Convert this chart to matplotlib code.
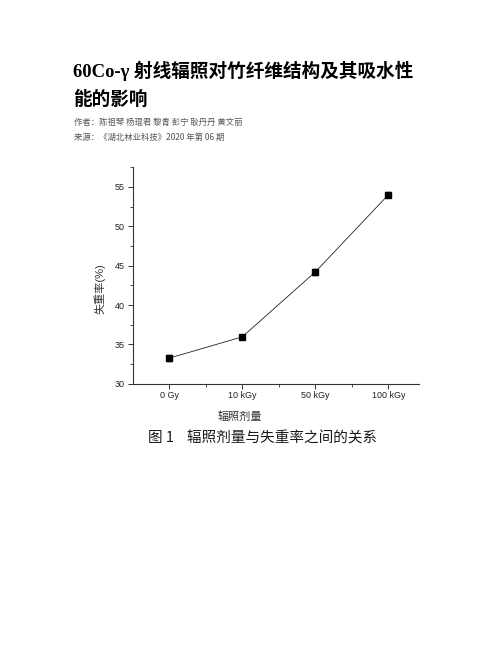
import numpy as np
import matplotlib
matplotlib.use("Agg")
import matplotlib.pyplot as plt
from matplotlib.ticker import MultipleLocator, FixedLocator

plt.rcParams['font.family'] = ['Liberation Sans', 'Noto Sans CJK SC', 'DejaVu Sans']

# data
doses = ['0 Gy', '10 kGy', '50 kGy', '100 kGy']
loss_rate = [33.25, 35.95, 44.2, 54.0]
loss_err = [0.4, 0.25, 0.35, 0.3]

title_lines = ['60Co-γ 射线辐照对竹纤维结构及其吸水性', '能的影响']
author_line = '作者：陈祖琴 杨琨君 黎青 彭宁 耿丹丹 黄文丽'
source_line = '来源：《湖北林业科技》2020 年第 06 期'
caption = '图 1    辐照剂量与失重率之间的关系'

fig = plt.figure(figsize=(5.02, 6.49), dpi=100)

# page header
head_font = ['Liberation Serif', 'Noto Sans CJK SC']
fig.text(73 / 502, 1 - 71 / 649, title_lines[0], fontsize=13.4, fontweight='bold',
         family=head_font, va='center', ha='left')
fig.text(73 / 502, 1 - 100 / 649, title_lines[1], fontsize=13.4, fontweight='bold',
         family=head_font, va='center', ha='left')
fig.text(74 / 502, 1 - 122.5 / 649, author_line, fontsize=6, color='#555555',
         family=['Noto Sans CJK SC'], va='center', ha='left')
fig.text(74 / 502, 1 - 137.5 / 649, source_line, fontsize=6, color='#555555',
         family=['Noto Sans CJK SC'], va='center', ha='left')

# chart
ax = fig.add_axes([132.7 / 502, 1 - 383.7 / 649, (419 - 132.7) / 502, (383.7 - 167.3) / 649])
x = np.arange(len(doses))
ax.errorbar(x, loss_rate, yerr=loss_err, color='#222222', lw=0.6, marker='s', ms=4.5,
            mfc='black', mec='black', ecolor='#222222', elinewidth=0.9, capsize=2)

ax.set_xlim(-0.5, 3.42)
ax.set_ylim(30, 57.5)
ax.set_xticks(x)
ax.set_xticklabels(doses)
ax.xaxis.set_minor_locator(FixedLocator([0.5, 1.5, 2.5]))
ax.yaxis.set_major_locator(MultipleLocator(5))
ax.yaxis.set_minor_locator(MultipleLocator(2.5))

for s in ['top', 'right']:
    ax.spines[s].set_visible(False)
for s in ['left', 'bottom']:
    ax.spines[s].set_linewidth(0.8)
    ax.spines[s].set_color('#333333')

ax.tick_params(which='major', direction='out', length=3.5, width=0.7, labelsize=6.5,
               color='#333333', labelcolor='#222222', pad=2)
ax.tick_params(which='minor', direction='out', length=2, width=0.6, color='#333333')

ax.set_ylabel('失重率(%)', fontsize=8, color='#333333')
ax.yaxis.set_label_coords(-0.095, 0.44)
ax.set_xlabel('辐照剂量', fontsize=8, color='#333333')
ax.xaxis.set_label_coords(0.375, -0.13)

fig.text(148 / 502, 1 - 438 / 649, caption, fontsize=10.5, color='#1a1a1a',
         fontweight='medium', family=['Noto Sans CJK SC'], va='center', ha='left')

fig.savefig('out.png', dpi=100)
